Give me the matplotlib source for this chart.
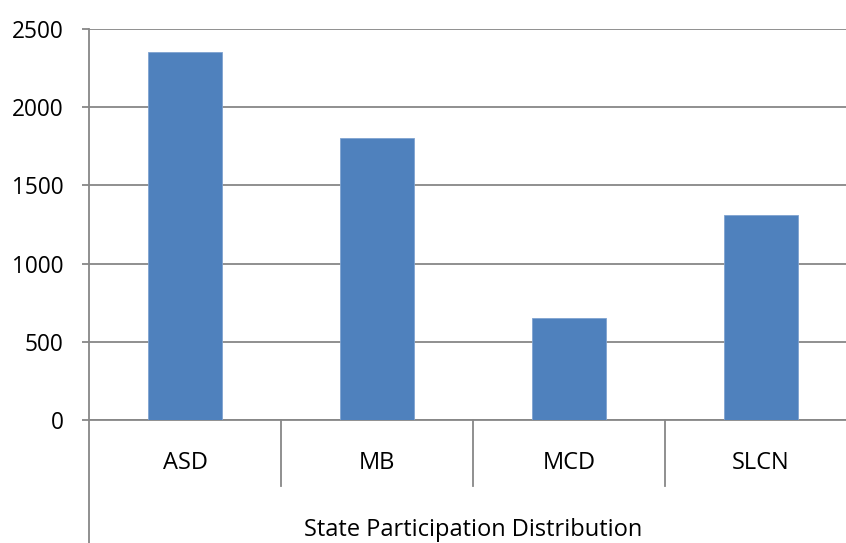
import matplotlib.pyplot as plt
import matplotlib.transforms as mtransforms

categories = ["ASD", "MB", "MCD", "SLCN"]
participants = [2355, 1800, 650, 1310]
y_ticks = [0, 500, 1000, 1500, 2000, 2500]
group_label = "State Participation Distribution"

plt.rcParams['font.family'] = ['Open Sans', 'DejaVu Sans']

fig = plt.figure(figsize=(8.46, 5.43), dpi=100)
# plot area runs past the right edge of the figure
ax = fig.add_axes([89 / 846, 123 / 543, 768 / 846, 391 / 543])

grid_col = '#878787'
x = list(range(len(categories)))
ax.bar(x, participants, width=0.39, color='#4F81BD', edgecolor='#7FA3D0',
       linewidth=0.6, zorder=3)

ax.set_xlim(-0.5, len(categories) - 0.5)
ax.set_ylim(0, 2500)
ax.set_yticks(y_ticks)
ax.set_yticklabels([str(v) for v in y_ticks], fontsize=16.3)
ax.yaxis.grid(True, color=grid_col, linewidth=1.3, zorder=0)
ax.tick_params(axis='y', length=5, width=1.3, color=grid_col, pad=13.5)
ax.set_xticks([])

for side in ['top', 'right']:
    ax.spines[side].set_visible(False)
ax.spines['bottom'].set_color(grid_col)
ax.spines['bottom'].set_linewidth(1.3)
ax.spines['left'].set_visible(False)

trans = mtransforms.blended_transform_factory(ax.transData, ax.transAxes)
# y axis line down to the bottom of the figure
ax.plot([-0.5, -0.5], [1, -123 / 391], transform=trans, color=grid_col,
        linewidth=1.3, clip_on=False, zorder=4)
# category dividers under the axis
for xd in [0.5, 1.5, 2.5]:
    ax.plot([xd, xd], [0, -66 / 391], transform=trans, color=grid_col,
            linewidth=1.3, clip_on=False)

for xi, name in zip(x, categories):
    ax.text(xi, -43 / 391, name, transform=trans, ha='center', va='center',
            fontsize=17)

ax.text(1.5, -110 / 391, group_label, transform=trans, ha='center',
        va='center', fontsize=17)

fig.savefig('out.png', dpi=100)
